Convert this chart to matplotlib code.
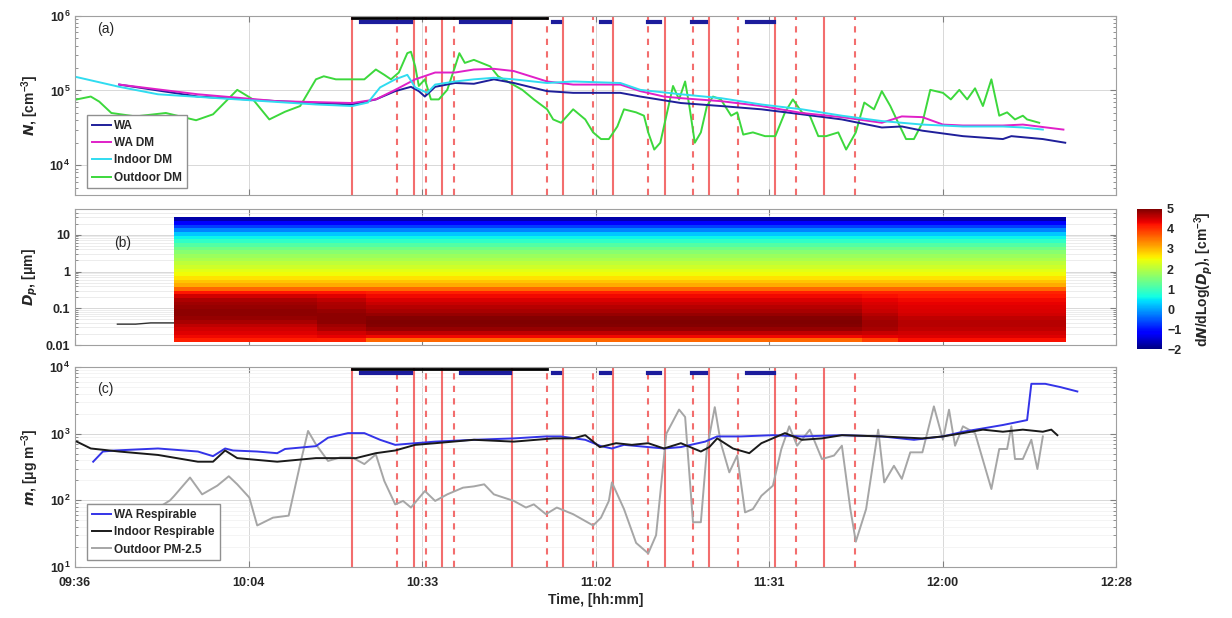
import numpy as np
import matplotlib
matplotlib.use("Agg")
import matplotlib.pyplot as plt

plt.rcParams['font.family'] = ['Liberation Sans', 'DejaVu Sans']
plt.rcParams['font.weight'] = 'bold'
plt.rcParams['axes.labelweight'] = 'bold'
plt.rcParams['mathtext.default'] = 'regular'

# --- time axis: minutes after 09:36 ---
tick_labels = ["09:36", "10:04", "10:33", "11:02", "11:31", "12:00", "12:28"]

# event markers (minutes after 09:36)
solid_events = [45.8, 56.0, 60.6, 72.2, 80.6, 88.9, 97.5, 104.8, 115.7, 123.8]
dashed_events = [53.2, 58.0, 62.6, 78.0, 85.6, 94.7, 102.1, 109.6, 119.1, 128.9]
black_period = [(45.8, 78.0)]
blue_periods = [(47.3, 55.5), (63.8, 71.9), (79.0, 80.1), (86.9, 88.4),
                (94.7, 96.7), (101.9, 104.3), (111.0, 115.5)]

# --- panel (a): number concentration [cm-3] ---
wa_t = [7.3, 20.3, 33.4, 45.8, 49.7, 52.9, 55.5, 56.8, 57.8, 59.5, 62.8, 65.9, 69.2,
        72.5, 78.0, 82.3, 90.1, 93.4, 100.1, 106.7, 113.4, 120.1, 126.7, 133.3,
        136.6, 140.0, 146.7, 153.3, 154.7, 159.9, 163.6]
wa_n = [1.20e5, 8.3e4, 7.2e4, 6.5e4, 7.6e4, 9.8e4, 1.12e5, 9.8e4, 8.3e4, 1.12e5, 1.26e5,
        1.23e5, 1.41e5, 1.26e5, 9.8e4, 9.3e4, 9.3e4, 8.3e4, 6.8e4, 6.2e4, 5.6e4, 4.8e4,
        4.1e4, 3.2e4, 3.3e4, 2.9e4, 2.45e4, 2.24e4, 2.45e4, 2.24e4, 2.0e4]

wadm_t = [7.3, 20.3, 33.4, 45.8, 49.7, 52.9, 56.2, 59.5, 62.8, 65.9, 69.2, 72.5, 78.0,
          82.3, 90.1, 93.4, 97.3, 100.1, 106.7, 113.4, 120.1, 126.7, 133.3, 136.6,
          140.0, 143.4, 146.7, 153.3, 156.6, 163.3]
wadm_n = [1.20e5, 8.9e4, 7.2e4, 6.8e4, 7.6e4, 1.02e5, 1.41e5, 1.74e5, 1.74e5, 1.91e5,
          1.95e5, 1.82e5, 1.32e5, 1.20e5, 1.20e5, 9.8e4, 8.3e4, 7.9e4, 7.2e4, 6.2e4,
          5.0e4, 4.4e4, 3.7e4, 4.5e4, 4.4e4, 3.5e4, 3.4e4, 3.4e4, 3.5e4, 3.0e4]

indm_t = [0.3, 7.3, 13.7, 26.8, 39.8, 45.8, 48.4, 50.4, 52.9, 54.9, 56.2, 58.2, 59.5,
          62.8, 65.9, 69.2, 72.5, 78.0, 82.3, 90.1, 93.4, 100.1, 106.7, 113.4, 120.1,
          126.7, 133.3, 140.0, 146.7, 153.3, 156.6, 159.9]
indm_n = [1.51e5, 1.12e5, 8.9e4, 7.6e4, 6.5e4, 6.2e4, 6.9e4, 1.10e5, 1.41e5, 1.62e5,
          1.10e5, 9.3e4, 1.20e5, 1.32e5, 1.41e5, 1.48e5, 1.41e5, 1.26e5, 1.32e5, 1.26e5,
          1.02e5, 8.9e4, 7.9e4, 6.5e4, 5.6e4, 4.6e4, 3.9e4, 3.5e4, 3.3e4, 3.3e4, 3.2e4,
          3.0e4]

outdm_t = [0.3, 2.6, 4.0, 6.0, 10.0, 15.0, 20.0, 22.8, 26.8, 29.4, 32.1, 34.7, 37.2,
           39.8, 41.1, 43.1, 45.8, 47.8, 49.7, 51.1, 52.2, 53.5, 54.9, 55.5, 56.2, 56.8,
           57.8, 58.8, 60.1, 61.5, 62.8, 63.5, 64.4, 65.9, 68.6, 69.9, 71.9, 73.9, 75.8,
           78.0, 79.0, 80.3, 82.3, 84.3, 85.6, 86.9, 88.2, 89.6, 90.7, 92.7, 94.0, 94.7,
           95.7, 96.7, 97.7, 98.8, 99.8, 100.8, 101.5, 102.4, 103.4, 104.4, 105.4, 106.7,
           108.4, 109.4, 110.4, 112.0, 114.0, 115.7, 117.3, 118.6, 120.1, 121.4, 122.8,
           124.1, 126.1, 127.4, 129.0, 130.4, 132.0, 133.3, 134.7, 136.0, 137.3, 138.6,
           140.0, 141.3, 143.4, 144.7, 146.1, 147.4, 148.7, 150.0, 151.4, 152.7, 154.0,
           155.3, 156.6, 157.3, 159.3]
outdm_n = [7.6e4, 8.3e4, 7.1e4, 5.0e4, 4.5e4, 5.0e4, 4.0e4, 4.8e4, 1.02e5, 7.6e4, 4.1e4,
           5.2e4, 6.2e4, 1.41e5, 1.55e5, 1.41e5, 1.41e5, 1.41e5, 1.91e5, 1.62e5, 1.41e5,
           1.74e5, 3.16e5, 3.3e5, 2.1e5, 1.15e5, 1.41e5, 7.6e4, 7.6e4, 1.02e5, 2.1e5,
           3.16e5, 2.34e5, 2.57e5, 2.1e5, 1.55e5, 1.26e5, 1.02e5, 7.6e4, 5.6e4, 4.1e4,
           3.7e4, 5.6e4, 4.1e4, 2.75e4, 2.24e4, 2.24e4, 3.3e4, 5.6e4, 5.1e4, 4.6e4,
           2.75e4, 1.62e4, 2.0e4, 4.6e4, 1.15e5, 7.6e4, 1.32e5, 6.2e4, 2.0e4, 2.75e4,
           6.2e4, 8.3e4, 7.6e4, 4.6e4, 5.1e4, 2.57e4, 2.75e4, 2.45e4, 2.45e4, 5.1e4,
           7.6e4, 5.1e4, 4.6e4, 2.45e4, 2.45e4, 2.75e4, 1.62e4, 2.75e4, 6.9e4, 5.6e4,
           9.8e4, 6.2e4, 3.7e4, 2.24e4, 2.24e4, 3.7e4, 1.02e5, 9.3e4, 7.6e4, 1.02e5,
           7.6e4, 1.07e5, 6.2e4, 1.41e5, 4.6e4, 5.1e4, 4.1e4, 4.6e4, 4.1e4, 3.7e4]

# --- panel (b): size distribution, log10(dN/dlogDp) ---
dp_edges = np.geomspace(0.012, 30, 35)          # 34 bins, 0.1 decade each
seg_edges = [16.4, 30.0, 40.0, 48.0, 55.0, 90.0, 120.0, 130.0, 136.0, 150.0, 163.8]
seg_kind = ["early", "early", "early2", "mid", "mid", "mid", "mid", "late2", "late", "late"]
# lowest 14 bins (0.0135 .. 0.27 um) for each period
low_bins = {
    "early":  [4.15, 4.3, 4.4, 4.5, 4.6, 4.75, 4.85, 4.9, 4.9, 4.85, 4.8, 4.7, 4.5, 4.2],
    "early2": [4.1, 4.35, 4.5, 4.7, 4.8, 4.9, 4.9, 4.9, 4.85, 4.75, 4.7, 4.6, 4.4, 4.2],
    "mid":    [3.6, 4.3, 4.6, 4.85, 4.95, 5.0, 4.95, 4.85, 4.75, 4.65, 4.55, 4.45, 4.3, 4.15],
    "late2":  [3.9, 4.35, 4.55, 4.75, 4.8, 4.8, 4.75, 4.65, 4.55, 4.5, 4.45, 4.35, 4.25, 4.1],
    "late":   [4.25, 4.4, 4.5, 4.6, 4.65, 4.65, 4.6, 4.5, 4.45, 4.4, 4.35, 4.3, 4.2, 4.1],
}
# upper 20 bins (0.34 .. 27 um), same for all periods
high_bins = [3.6, 3.1, 2.9, 2.7, 2.5, 2.35, 2.2, 2.05, 1.9, 1.75, 1.6, 1.4, 1.15, 0.85,
             0.55, 0.25, -0.2, -0.7, -1.2, -1.75]
dmed_t = [7.0, 10.0, 12.5, 16.4]
dmed_um = [0.037, 0.037, 0.040, 0.040]

# --- panel (c): mass concentration [ug m-3] ---
war_t = [3.0, 4.6, 6.6, 13.7, 20.3, 22.8, 24.8, 26.1, 30.1, 33.4, 34.7, 39.8, 41.8, 45.1,
         47.8, 50.4, 52.9, 56.2, 59.5, 65.9, 72.5, 77.8, 80.3, 84.3, 86.9, 88.7, 90.7,
         94.7, 97.3, 100.1, 104.1, 106.1, 110.0, 115.3, 120.1, 126.7, 133.3, 138.6,
         143.4, 146.7, 150.0, 153.3, 157.3, 158.0, 160.3, 162.8, 165.6]
war_m = [380, 540, 560, 600, 540, 460, 600, 560, 540, 510, 590, 650, 870, 1020, 1020, 810,
         680, 720, 760, 810, 850, 910, 910, 810, 650, 600, 680, 630, 600, 630, 760, 910,
         910, 950, 910, 950, 910, 810, 910, 1070, 1200, 1350, 1600, 5600, 5600, 5000, 4300]

inr_t = [0.3, 2.6, 7.3, 13.7, 20.3, 22.8, 24.8, 26.8, 33.4, 39.8, 46.4, 49.7, 52.9, 56.2,
         59.5, 65.9, 72.5, 79.0, 82.3, 84.3, 86.7, 89.4, 92.0, 94.7, 97.3, 100.1, 103.4,
         104.8, 106.1, 108.7, 111.4, 113.4, 117.3, 120.1, 123.4, 126.7, 133.3, 140.0,
         143.4, 146.7, 150.0, 153.3, 156.6, 159.9, 161.3, 162.3]
inr_m = [760, 600, 540, 480, 380, 380, 560, 430, 380, 430, 430, 510, 560, 680, 720, 810,
         760, 850, 850, 950, 630, 720, 680, 720, 600, 720, 540, 630, 850, 600, 510, 720,
         1020, 810, 850, 950, 910, 850, 910, 1020, 1150, 1070, 1150, 1070, 1150, 950]

outpm_t = [14.0, 15.7, 16.4, 19.0, 21.0, 23.5, 25.4, 26.8, 28.8, 30.1, 32.7, 35.3, 37.2,
           38.5, 39.8, 41.8, 43.8, 45.8, 47.8, 49.7, 51.1, 52.9, 54.2, 55.5, 57.8, 59.5,
           61.5, 64.1, 65.9, 67.6, 69.2, 72.5, 74.5, 75.8, 77.8, 79.6, 82.3, 85.6, 86.9,
           88.2, 88.7, 90.7, 92.7, 94.7, 96.0, 97.7, 99.8, 100.8, 102.1, 103.4, 104.4,
           105.7, 106.7, 108.1, 109.4, 110.7, 112.0, 113.4, 115.3, 116.7, 118.0, 119.3,
           121.4, 123.4, 125.4, 126.7, 128.1, 129.0, 130.7, 132.7, 133.7, 135.3, 136.6,
           138.0, 140.0, 141.9, 143.4, 144.4, 145.4, 146.7, 148.7, 151.4, 152.7, 154.0,
           154.7, 155.3, 156.6, 158.0, 159.0, 159.9]
outpm_m = [80, 100, 117, 220, 123, 166, 230, 174, 110, 42, 55, 59, 350, 1100, 690, 390,
           440, 440, 350, 490, 195, 87, 98, 78, 138, 98, 123, 155, 162, 174, 123, 98, 78,
           87, 62, 78, 62, 42, 55, 98, 186, 74, 23, 16, 30, 1000, 2300, 1780, 47, 47, 590,
           2500, 720, 263, 470, 66, 74, 117, 166, 590, 1290, 660, 1150, 417, 470, 660, 74,
           24, 74, 1150, 186, 330, 210, 525, 525, 2570, 810, 2290, 660, 1290, 1020, 148,
           590, 590, 1290, 417, 417, 810, 295, 910]

# ---------------- plotting ----------------
fig = plt.figure(figsize=(12.32, 6.18), dpi=100)
ax1 = fig.add_axes([0.0609, 0.6845, 0.845, 0.290])
ax2 = fig.add_axes([0.0609, 0.4417, 0.845, 0.220])
ax3 = fig.add_axes([0.0609, 0.0825, 0.845, 0.3236])
cax = fig.add_axes([0.923, 0.435, 0.0203, 0.227])

xt = np.linspace(0, 172, 7)
txt_col = '#262626'
red = '#f04a4a'


def style_axis(ax, minor_grid):
    ax.set_xlim(0, 172)
    ax.set_xticks(xt)
    ax.set_xticklabels([])
    ax.tick_params(which='both', direction='in', top=True, right=True,
                   colors='#808080', labelcolor=txt_col, labelsize=9)
    ax.tick_params(which='major', length=4)
    ax.tick_params(which='minor', length=2)
    for s in ax.spines.values():
        s.set_color('#a0a0a0')
    ax.grid(True, which='major', color='#d8d8d8', lw=0.7)
    if minor_grid:
        ax.grid(True, which='minor', axis='y', color=minor_grid, lw=0.5)
    ax.set_axisbelow(True)


def events(ax, ytop, yblue):
    for t in solid_events:
        ax.axvline(t, color=red, lw=1.5, alpha=0.8, zorder=1)
    for t in dashed_events:
        ax.axvline(t, color=red, lw=1.5, ls=(0, (3, 3)), alpha=0.8, zorder=1)
    for a, b in black_period:
        ax.plot([a, b], [ytop, ytop], color='black', lw=2.0, zorder=4)
    for a, b in blue_periods:
        ax.plot([a, b], [yblue, yblue], color='#1c1c9c', lw=3.0, zorder=4)


# (a)
style_axis(ax1, None)
ax1.set_yscale('log')
ax1.set_ylim(4e3, 1e6)
events(ax1, 9.2e5, 8.2e5)
ax1.plot(wa_t, wa_n, color='#1f1f9a', lw=1.4, label='WA', zorder=3)
ax1.plot(wadm_t, wadm_n, color='#e020c8', lw=1.4, label='WA DM', zorder=3)
ax1.plot(indm_t, indm_n, color='#30dcf0', lw=1.4, label='Indoor DM', zorder=3)
ax1.plot(outdm_t, outdm_n, color='#3cd83c', lw=1.4, label='Outdoor DM', zorder=2)
ax1.set_ylabel('$\\mathit{N}$, [cm$^{-3}$]', fontsize=10, color=txt_col, labelpad=6)
ax1.text(0.021, 0.905, '(a)', transform=ax1.transAxes, fontsize=10,
         fontweight='normal', color=txt_col)
leg = ax1.legend(loc='lower left', bbox_to_anchor=(0.006, 0.004), fontsize=8.5,
                 handlelength=1.6, handletextpad=0.3, labelspacing=0.45,
                 borderpad=0.4, fancybox=False, framealpha=1, edgecolor='#909090')
for tx in leg.get_texts():
    tx.set_color(txt_col)

# (b)
style_axis(ax2, '#e4e4e4')
ax2.set_yscale('log')
ax2.set_ylim(0.01, 50)
ax2.set_yticks([0.01, 0.1, 1, 10])
ax2.set_yticklabels(['0.01', '0.1', '1', '10'])
ax2.plot(dmed_t, dmed_um, color='#303030', lw=1.0, zorder=2)
z = np.array([low_bins[k] + high_bins for k in seg_kind]).T
mesh = ax2.pcolormesh(seg_edges, dp_edges, z, cmap='jet', vmin=-2, vmax=5,
                      shading='flat', zorder=3)
ax2.set_ylabel('$\\mathit{D_p}$, [$\\mu$m]', fontsize=10, color=txt_col, labelpad=4)
ax2.text(0.038, 0.72, '(b)', transform=ax2.transAxes, fontsize=10,
         fontweight='normal', color=txt_col, zorder=5)

cb = fig.colorbar(mesh, cax=cax, ticks=range(-2, 6))
cb.outline.set_visible(False)
cax.tick_params(length=0, labelsize=9, labelcolor=txt_col)
cb.set_label('d$\\mathit{N}$/dLog($\\mathit{D_p}$), [cm$^{-3}$]', fontsize=10,
             color=txt_col, labelpad=8)

# (c)
style_axis(ax3, '#f0f0f0')
ax3.set_yscale('log')
ax3.set_ylim(10, 1e4)
events(ax3, 9.2e3, 8.2e3)
ax3.plot(war_t, war_m, color='#3434e8', lw=1.4, label='WA Respirable', zorder=3)
ax3.plot(inr_t, inr_m, color='#1a1a1a', lw=1.4, label='Indoor Respirable', zorder=3)
ax3.plot(outpm_t, outpm_m, color='#a6a6a6', lw=1.4, label='Outdoor PM-2.5', zorder=2)
ax3.set_xticklabels(tick_labels)
ax3.tick_params(axis='x', pad=7)
ax3.set_xlabel('Time, [hh:mm]', fontsize=10, color=txt_col, labelpad=3)
ax3.set_ylabel('$\\mathit{m}$, [$\\mu$g m$^{-3}$]', fontsize=10, color=txt_col, labelpad=6)
ax3.text(0.021, 0.87, '(c)', transform=ax3.transAxes, fontsize=10,
         fontweight='normal', color=txt_col)
leg3 = ax3.legend(loc='lower left', bbox_to_anchor=(0.006, 0.004), fontsize=8.5,
                  handlelength=1.6, handletextpad=0.3, labelspacing=0.45,
                  borderpad=0.4, fancybox=False, framealpha=1, edgecolor='#909090')
for tx in leg3.get_texts():
    tx.set_color(txt_col)

fig.savefig('out.png', dpi=100)
